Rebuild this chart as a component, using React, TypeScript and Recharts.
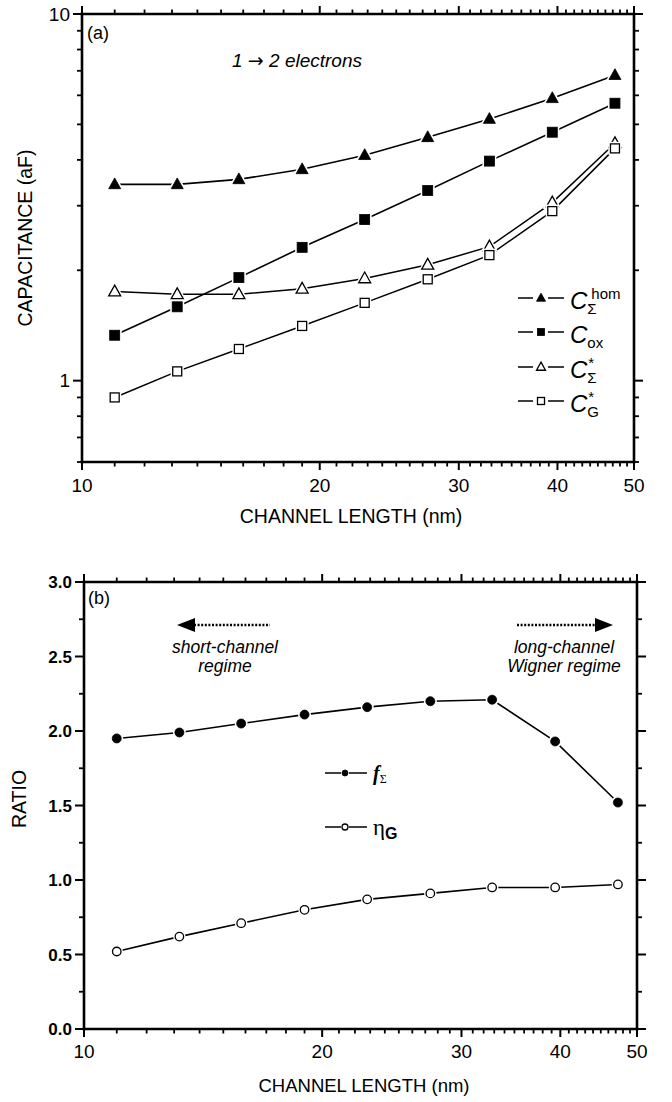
import React from "react";
import { LineChart, Line, XAxis, YAxis, Legend, Customized } from "recharts";

// channel length (nm), shared by both panels
const channelLength = [11, 13.2, 15.8, 19, 22.8, 27.4, 32.8, 39.4, 47.3];

// panel (a): capacitances (aF)
const cSigmaHom = [3.43, 3.43, 3.54, 3.77, 4.12, 4.61, 5.17, 5.89, 6.81];
const cOx = [1.33, 1.59, 1.91, 2.31, 2.75, 3.3, 3.97, 4.76, 5.71];
const cSigmaStar = [1.75, 1.72, 1.72, 1.78, 1.9, 2.07, 2.32, 3.06, 4.44];
const cGStar = [0.9, 1.06, 1.22, 1.41, 1.63, 1.89, 2.2, 2.9, 4.3];

// panel (b): ratios
const fSigma = [1.95, 1.99, 2.05, 2.11, 2.16, 2.2, 2.21, 1.93, 1.52];
const etaG = [0.52, 0.62, 0.71, 0.8, 0.87, 0.91, 0.95, 0.95, 0.97];

// ticks
const xMajorTicks = [10, 20, 30, 40, 50];
const xTicks: number[] = [];
for (let v = 10; v <= 50; v++) xTicks.push(v);
const capMajorTicks = [1, 10];
const capTicks = [0.6, 0.7, 0.8, 0.9, 1, 2, 3, 4, 5, 6, 7, 8, 9, 10];
const ratioMajorTicks = [0, 0.5, 1, 1.5, 2, 2.5, 3];
const ratioTicks = [0, 0.25, 0.5, 0.75, 1, 1.25, 1.5, 1.75, 2, 2.25, 2.5, 2.75, 3];

const capData = channelLength.map((L, i) => ({
  L,
  hom: cSigmaHom[i],
  ox: cOx[i],
  sigStar: cSigmaStar[i],
  gStar: cGStar[i],
}));

const ratioData = channelLength.map((L, i) => ({ L, f: fSigma[i], eta: etaG[i] }));

const FONT = '"Liberation Sans", Arial, Helvetica, sans-serif';
const SERIF = '"Liberation Serif", "Times New Roman", serif';
const AXIS_LINE = { stroke: "#000", strokeWidth: 2.6, strokeLinecap: "square" as const };

type Kind = "triangle" | "square" | "circle";

const shapeFor = (kind: Kind, cx: number, cy: number, size: number, props: any) => {
  if (kind === "triangle") {
    const h = size * 0.9;
    const pts = `${cx},${cy - h * 0.6} ${cx + size / 2},${cy + h * 0.4} ${cx - size / 2},${cy + h * 0.4}`;
    return <polygon points={pts} {...props} />;
  }
  if (kind === "square") {
    return <rect x={cx - size / 2} y={cy - size / 2} width={size} height={size} {...props} />;
  }
  return <circle cx={cx} cy={cy} r={size / 2} {...props} />;
};

const Marker = ({ cx, cy, kind, filled, size, halo = true }: any) => {
  if (cx == null || cy == null) return null;
  return (
    <g>
      {halo && shapeFor(kind, cx, cy, size, { fill: "#fff", stroke: "#fff", strokeWidth: 4 })}
      {shapeFor(kind, cx, cy, size, {
        fill: filled ? "#000" : "#fff",
        stroke: "#000",
        strokeWidth: filled ? 0.8 : 1.3,
      })}
    </g>
  );
};

const dotOf = (kind: Kind, filled: boolean, size: number) => (p: any) =>
  <Marker key={`d-${kind}-${filled}-${p.index}`} cx={p.cx} cy={p.cy} kind={kind} filled={filled} size={size} />;

const makeXTick = (side: "bottom" | "top", labelDy: number) => (props: any) => {
  const { x, y, payload, index } = props;
  const v = payload.value;
  const major = xMajorTicks.includes(v);
  const len = major ? 8 : 4.5;
  const d = side === "bottom" ? 1 : -1;
  return (
    <g key={`xt-${side}-${index}`}>
      <line x1={x} x2={x} y1={y} y2={y + d * len} stroke="#000" strokeWidth={major ? 2 : 1.8} />
      {side === "bottom" && major && (
        <text x={x} y={y + labelDy} textAnchor="middle" fontSize={19} fontFamily={FONT} fill="#000">
          {v}
        </text>
      )}
    </g>
  );
};

const makeYTick =
  (side: "left" | "right", majors: number[], fmt: (v: number) => string, fontSize: number, weight: number) =>
  (props: any) => {
    const { x, y, payload, index } = props;
    const v = payload.value;
    const major = majors.includes(v);
    const len = major ? 9 : 5;
    const d = side === "left" ? -1 : 1;
    return (
      <g key={`yt-${side}-${index}`}>
        <line x1={x} x2={x + d * len} y1={y} y2={y} stroke="#000" strokeWidth={major ? 2 : 1.8} />
        {side === "left" && major && (
          <text
            x={x - 12}
            y={y + fontSize * 0.36}
            textAnchor="end"
            fontSize={fontSize}
            fontWeight={weight}
            fontFamily={FONT}
            fill="#000"
          >
            {fmt(v)}
          </text>
        )}
      </g>
    );
  };

const capLegendItems = [
  { kind: "triangle" as Kind, filled: true, sub: "Σ", sup: "hom" },
  { kind: "square" as Kind, filled: true, sub: "ox", sup: "" },
  { kind: "triangle" as Kind, filled: false, sub: "Σ", sup: "*" },
  { kind: "square" as Kind, filled: false, sub: "G", sup: "*" },
];

const CapLegend = () => (
  <div style={{ fontFamily: FONT, color: "#000" }}>
    {capLegendItems.map((it) => (
      <div key={it.sub + it.sup} style={{ display: "flex", alignItems: "center", height: 34.3 }}>
        <svg width={50} height={20} style={{ overflow: "visible" }}>
          <line x1={1} x2={16} y1={10} y2={10} stroke="#000" strokeWidth={1.5} />
          <line x1={31} x2={47} y1={10} y2={10} stroke="#000" strokeWidth={1.5} />
          <Marker cx={24} cy={10} kind={it.kind} filled={it.filled} size={it.kind === "triangle" ? 9 : 7} halo={false} />
        </svg>
        <span style={{ fontStyle: "italic", fontSize: 24, lineHeight: 1, marginLeft: 3, position: "relative", top: 3 }}>
          C
        </span>
        <span
          style={{
            display: "inline-flex",
            flexDirection: "column",
            fontSize: 15,
            lineHeight: 1,
            position: "relative",
            top: 3,
          }}
        >
          <span style={{ height: 15, marginLeft: it.sup === "*" ? 1 : 4 }}>{it.sup}</span>
          <span style={{ marginLeft: 0 }}>{it.sub}</span>
        </span>
      </div>
    ))}
  </div>
);

const ratioLegendItems = [
  { filled: true, name: "f", sub: "Σ" },
  { filled: false, name: "η", sub: "G" },
];

const RatioLegend = () => (
  <div style={{ color: "#000" }}>
    {ratioLegendItems.map((it) => (
      <div key={it.name} style={{ display: "flex", alignItems: "center", height: 54 }}>
        <svg width={44} height={20}>
          <line x1={1} x2={17} y1={10} y2={10} stroke="#000" strokeWidth={1.5} />
          <line x1={25} x2={43} y1={10} y2={10} stroke="#000" strokeWidth={1.5} />
          <Marker cx={21} cy={10} kind="circle" filled={it.filled} size={6} halo={false} />
        </svg>
        <span
          style={{
            fontFamily: SERIF,
            fontStyle: it.filled ? "italic" : "normal",
            fontWeight: it.filled ? 700 : 400,
            fontSize: it.filled ? 20 : 23,
            lineHeight: 1,
            marginLeft: 5,
          }}
        >
          {it.name}
        </span>
        <span
          style={{
            fontFamily: it.filled ? SERIF : FONT,
            fontWeight: it.filled ? 400 : 700,
            fontSize: it.filled ? 12 : 16,
            lineHeight: 1,
            position: "relative",
            top: it.filled ? 6 : 7,
          }}
        >
          {it.sub}
        </span>
      </div>
    ))}
  </div>
);

const CapAnnotations = () => (
  <g fontFamily={FONT} fill="#000">
    <text x={87} y={39} fontSize={18}>
      (a)
    </text>
    <text x={232} y={67} fontSize={19} fontStyle="italic">
      1{" "}
      <tspan fontFamily='"DejaVu Sans", sans-serif' fontStyle="normal" fontSize={19}>
        →
      </tspan>{" "}
      2 electrons
    </text>
    <text
      transform="rotate(-90 25 238)"
      x={25}
      y={238}
      textAnchor="middle"
      dominantBaseline="central"
      fontSize={19.5}
    >
      CAPACITANCE (aF)
    </text>
    <text x={351} y={523} textAnchor="middle" fontSize={19.5}>
      CHANNEL LENGTH (nm)
    </text>
  </g>
);

const RatioAnnotations = () => (
  <g fontFamily={FONT} fill="#000">
    <text x={88} y={64} fontSize={18}>
      (b)
    </text>
    {/* short-channel arrow */}
    <line x1={194} x2={270} y1={85} y2={85} stroke="#000" strokeWidth={2.6} strokeDasharray="2 1.6" />
    <polygon points="177,85 195,78 195,92" fill="#000" />
    <text x={225} y={113} textAnchor="middle" fontSize={17.5} fontStyle="italic">
      short-channel
    </text>
    <text x={225} y={132} textAnchor="middle" fontSize={17.5} fontStyle="italic">
      regime
    </text>
    {/* long-channel arrow */}
    <line x1={517} x2={596} y1={85} y2={85} stroke="#000" strokeWidth={2.6} strokeDasharray="2 1.6" />
    <polygon points="613,85 595,78 595,92" fill="#000" />
    <text x={564} y={113} textAnchor="middle" fontSize={17.5} fontStyle="italic">
      long-channel
    </text>
    <text x={564} y={132} textAnchor="middle" fontSize={17.5} fontStyle="italic">
      Wigner regime
    </text>
    <text
      transform="rotate(-90 19 259)"
      x={19}
      y={259}
      textAnchor="middle"
      dominantBaseline="central"
      fontSize={19.5}
    >
      RATIO
    </text>
    <text x={364} y={552} textAnchor="middle" fontSize={18.5}>
      CHANNEL LENGTH (nm)
    </text>
  </g>
);

const xAxisCommon = {
  dataKey: "L",
  type: "number" as const,
  scale: "log" as const,
  domain: [10, 50],
  ticks: xTicks,
  interval: 0 as const,
  tickLine: false,
  tickSize: 0,
  tickMargin: 0,
  axisLine: AXIS_LINE,
  allowDataOverflow: true,
};

const CapacitanceChart = () => (
  <LineChart width={672} height={540} data={capData} margin={{ top: 0, right: 0, bottom: 0, left: 0 }}>
    <XAxis {...xAxisCommon} xAxisId="b" height={78} tick={makeXTick("bottom", 30)} />
    <XAxis {...xAxisCommon} xAxisId="t" orientation="top" height={14} tick={makeXTick("top", 0)} />
    <YAxis
      yAxisId="l"
      type="number"
      scale="log"
      domain={[0.6, 10]}
      ticks={capTicks}
      interval={0}
      tickLine={false}
      tickSize={0}
      tickMargin={0}
      axisLine={AXIS_LINE}
      allowDataOverflow
      width={82}
      tick={makeYTick("left", capMajorTicks, (v) => String(v), 19, 400)}
    />
    <YAxis
      yAxisId="r"
      orientation="right"
      type="number"
      scale="log"
      domain={[0.6, 10]}
      ticks={capTicks}
      interval={0}
      tickLine={false}
      tickSize={0}
      tickMargin={0}
      axisLine={AXIS_LINE}
      allowDataOverflow
      width={38}
      tick={makeYTick("right", capMajorTicks, (v) => String(v), 19, 400)}
    />
    <Line xAxisId="b" yAxisId="l" dataKey="hom" stroke="#000" strokeWidth={1.6} dot={dotOf("triangle", true, 12)} isAnimationActive={false} />
    <Line xAxisId="b" yAxisId="l" dataKey="ox" stroke="#000" strokeWidth={1.6} dot={dotOf("square", true, 10)} isAnimationActive={false} />
    <Line xAxisId="b" yAxisId="l" dataKey="sigStar" stroke="#000" strokeWidth={1.5} dot={dotOf("triangle", false, 12)} isAnimationActive={false} />
    <Line xAxisId="b" yAxisId="l" dataKey="gStar" stroke="#000" strokeWidth={1.5} dot={dotOf("square", false, 9)} isAnimationActive={false} />
    <Legend
      layout="horizontal"
      verticalAlign="middle"
      align="center"
      content={<CapLegend />}
      wrapperStyle={{ left: 517, top: 281, width: 120, height: 140 }}
    />
    <Customized component={CapAnnotations} />
  </LineChart>
);

const RatioChart = () => (
  <LineChart width={672} height={562} data={ratioData} margin={{ top: 28, right: 0, bottom: 0, left: 0 }}>
    <XAxis {...xAxisCommon} xAxisId="b" height={73} tick={makeXTick("bottom", 29)} />
    <XAxis {...xAxisCommon} xAxisId="t" orientation="top" height={14} tick={makeXTick("top", 0)} />
    <YAxis
      yAxisId="l"
      type="number"
      domain={[0, 3]}
      ticks={ratioTicks}
      interval={0}
      tickLine={false}
      tickSize={0}
      tickMargin={0}
      axisLine={AXIS_LINE}
      allowDataOverflow
      width={84}
      tick={makeYTick("left", ratioMajorTicks, (v) => v.toFixed(1), 17, 700)}
    />
    <YAxis
      yAxisId="r"
      orientation="right"
      type="number"
      domain={[0, 3]}
      ticks={ratioTicks}
      interval={0}
      tickLine={false}
      tickSize={0}
      tickMargin={0}
      axisLine={AXIS_LINE}
      allowDataOverflow
      width={35}
      tick={makeYTick("right", ratioMajorTicks, (v) => v.toFixed(1), 17, 700)}
    />
    <Line xAxisId="b" yAxisId="l" dataKey="f" stroke="#000" strokeWidth={1.6} dot={dotOf("circle", true, 9)} isAnimationActive={false} />
    <Line xAxisId="b" yAxisId="l" dataKey="eta" stroke="#000" strokeWidth={1.6} dot={dotOf("circle", false, 8.5)} isAnimationActive={false} />
    <Legend
      layout="horizontal"
      verticalAlign="middle"
      align="center"
      content={<RatioLegend />}
      wrapperStyle={{ left: 324, top: 206, width: 120, height: 108 }}
    />
    <Customized component={RatioAnnotations} />
  </LineChart>
);

export default function App() {
  return (
    <div style={{ position: "absolute", left: 0, top: 0, width: 672, height: 1102, background: "#fff" }}>
      <CapacitanceChart />
      <RatioChart />
    </div>
  );
}
